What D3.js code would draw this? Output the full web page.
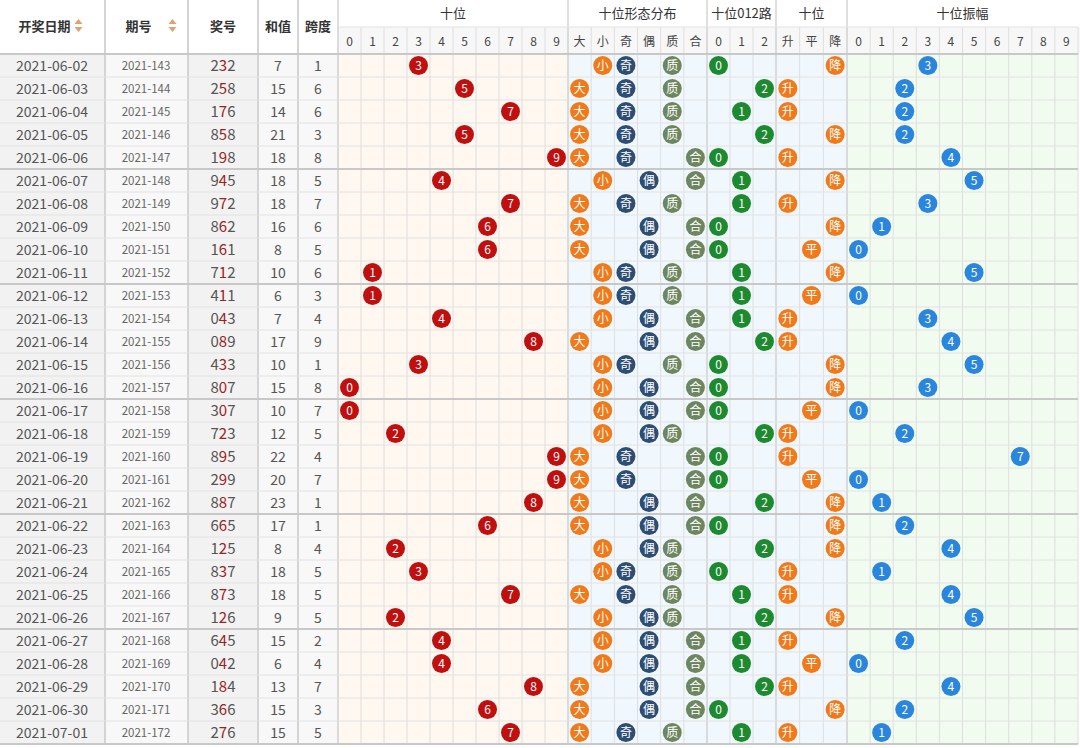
<!DOCTYPE html><html><head><meta charset="utf-8"><script src="https://cdn.jsdelivr.net/npm/d3@7"></script>
<style>body{margin:0;background:#fff;font-family:"Noto Sans CJK SC","Noto Sans",sans-serif}</style></head><body><svg id="c" width="1080" height="748"></svg><script>
const dates=["2021-06-02","2021-06-03","2021-06-04","2021-06-05","2021-06-06","2021-06-07","2021-06-08","2021-06-09","2021-06-10","2021-06-11","2021-06-12","2021-06-13","2021-06-14","2021-06-15","2021-06-16","2021-06-17","2021-06-18","2021-06-19","2021-06-20","2021-06-21","2021-06-22","2021-06-23","2021-06-24","2021-06-25","2021-06-26","2021-06-27","2021-06-28","2021-06-29","2021-06-30","2021-07-01"];
const issues=d3.range(143,173).map(n=>"2021-"+n);
const numbers=["232","258","176","858","198","945","972","862","161","712","411","043","089","433","807","307","723","895","299","887","665","125","837","873","126","645","042","184","366","276"];
const sums=[7,15,14,21,18,18,18,16,8,10,6,7,17,10,15,10,12,22,20,23,17,8,18,18,9,15,6,13,15,15];
const spans=[1,6,6,3,8,5,7,6,5,6,3,4,9,1,8,7,5,4,7,1,1,4,5,5,5,2,4,7,3,5];
const prevTens=6;
const shapeLabels=["大","小","奇","偶","质","合"], roadLabels=["0","1","2"], trendLabels=["升","平","降"];
const svg=d3.select("#c");
const rowY=d3.scaleBand().domain(d3.range(30)).range([54,744]);
const rh=rowY.bandwidth();
const fixedCols=[{t:"开奖日期",x0:0,x1:105},{t:"期号",x0:105,x1:188},{t:"奖号",x0:188,x1:258},{t:"和值",x0:258,x1:298},{t:"跨度",x0:298,x1:338}];
const xDig=d3.scaleBand().domain(d3.range(10)).range([338,568]);
const xShape=d3.scaleBand().domain(shapeLabels).range([568,707]);
const xRoad=d3.scaleBand().domain(roadLabels).range([707,776]);
const xTrend=d3.scaleBand().domain(trendLabels).range([776,847]);
const xAmp=d3.scaleBand().domain(d3.range(10)).range([847,1078]);
// backgrounds
svg.append("rect").attr("x",0).attr("y",0).attr("width",1080).attr("height",748).attr("fill","#fff");
svg.append("rect").attr("x",0).attr("y",0).attr("width",338).attr("height",54).attr("fill","#fff");
svg.append("rect").attr("x",338).attr("y",27).attr("width",742).attr("height",27).attr("fill","#f7f7f7");
[[0,105,"#f2f2f2"],[105,188,"#f8f8f8"],[188,258,"#f2f2f2"],[258,338,"#f8f8f8"],[338,568,"#fff8f1"],[568,847,"#f1f8fd"],[847,1078,"#f1fbef"]].forEach(([a,b,c])=>svg.append("rect").attr("x",a).attr("y",54).attr("width",b-a).attr("height",690).attr("fill",c));
const g=svg.append("g");
// grid lines
const vx=[]; [xDig,xShape,xRoad,xTrend,xAmp].forEach(s=>s.domain().forEach(d=>vx.push(s(d))));vx.push(1078);
vx.forEach(x=>g.append("line").attr("x1",x).attr("x2",x).attr("y1",27).attr("y2",744).attr("stroke","#dedede"));
[105,188,258,298,338,568,707,776,847].forEach(x=>g.append("line").attr("x1",x).attr("x2",x).attr("y1",0).attr("y2",744).attr("stroke","#d4d4d4").attr("stroke-width",x>300?1.5:2));
d3.range(31).forEach(i=>{const y=i<30?rowY(i):744;g.append("line").attr("x1",0).attr("x2",1078).attr("y1",y).attr("y2",y).attr("stroke",i%5==0?"#c8c8c8":"#e2e2e2").attr("stroke-width",i%5==0?2:1);});
g.append("line").attr("x1",338).attr("x2",1078).attr("y1",27).attr("y2",27).attr("stroke","#e2e2e2");
// headers
fixedCols.forEach((c,i)=>{const t=svg.append("text").attr("x",(c.x0+c.x1)/2-(i<2?8:0)).attr("y",31).attr("text-anchor","middle").attr("font-size",13).attr("font-weight","bold").attr("fill","#333").text(c.t);
 if(i<2){const ax=(c.x0+c.x1)/2+26;svg.append("path").attr("d",`M${ax-4},24 L${ax+4},24 L${ax},19Z`).attr("fill","#e0a070");svg.append("path").attr("d",`M${ax-4},27 L${ax+4},27 L${ax},32Z`).attr("fill","#e0a070");}});
[["十位",338,568],["十位形态分布",568,707],["十位012路",707,776],["十位",776,847],["十位振幅",847,1078]].forEach(([t,a,b])=>svg.append("text").attr("x",(a+b)/2).attr("y",18).attr("text-anchor","middle").attr("font-size",13).attr("fill","#333").text(t));
const sub=(s,lab)=>s.domain().forEach(d=>svg.append("text").attr("x",s(d)+s.bandwidth()/2).attr("y",46).attr("text-anchor","middle").attr("font-size",12).attr("fill","#444").text(lab?d:d));
[xDig,xShape,xRoad,xTrend,xAmp].forEach(s=>sub(s));
// rows
function ball(x,y,fill,t){g.append("circle").attr("cx",x).attr("cy",y).attr("r",9.5).attr("fill",fill);g.append("text").attr("x",x).attr("y",y+4.5).attr("text-anchor","middle").attr("font-size",12).attr("fill","#fff").text(t);}
const txt=(x,y,t,s,c)=>g.append("text").attr("x",x).attr("y",y).attr("text-anchor","middle").attr("font-size",s).attr("fill",c||"#555").text(t);
numbers.forEach((n,i)=>{
 const cy=rowY(i)+rh/2, ty=cy+5;
 txt(52,ty,dates[i],14,"#555");
 txt(146,ty-0.5,issues[i],11.5,"#666");
 const tn=g.append("text").attr("x",223).attr("y",ty).attr("text-anchor","middle").attr("font-size",15).attr("fill","#555");
 tn.append("tspan").text(n[0]);tn.append("tspan").attr("fill","#a02020").text(n[1]);tn.append("tspan").text(n[2]);
 txt(278,ty,sums[i],14);txt(318,ty,spans[i],14);
 const d=+n[1], prev=i?+numbers[i-1][1]:prevTens;
 ball(xDig(d)+xDig.bandwidth()/2,cy,"#c00f0f",d);
 const bw=xShape.bandwidth()/2;
 const sz=d>=5?"大":"小"; ball(xShape(sz)+bw,cy,"#f07a1a",sz);
 const oe=d%2?"奇":"偶"; ball(xShape(oe)+bw,cy,"#2e4d72",oe);
 const pc=[1,2,3,5,7].includes(d)?"质":"合"; ball(xShape(pc)+bw,cy,"#6d8660",pc);
 ball(xRoad(String(d%3))+xRoad.bandwidth()/2,cy,"#1e8a30",d%3);
 const tr=d>prev?"升":d==prev?"平":"降"; ball(xTrend(tr)+xTrend.bandwidth()/2,cy,"#f07a1a",tr);
 const a=Math.abs(d-prev); ball(xAmp(a)+xAmp.bandwidth()/2,cy,"#2a86dc",a);
});
</script></body></html>
